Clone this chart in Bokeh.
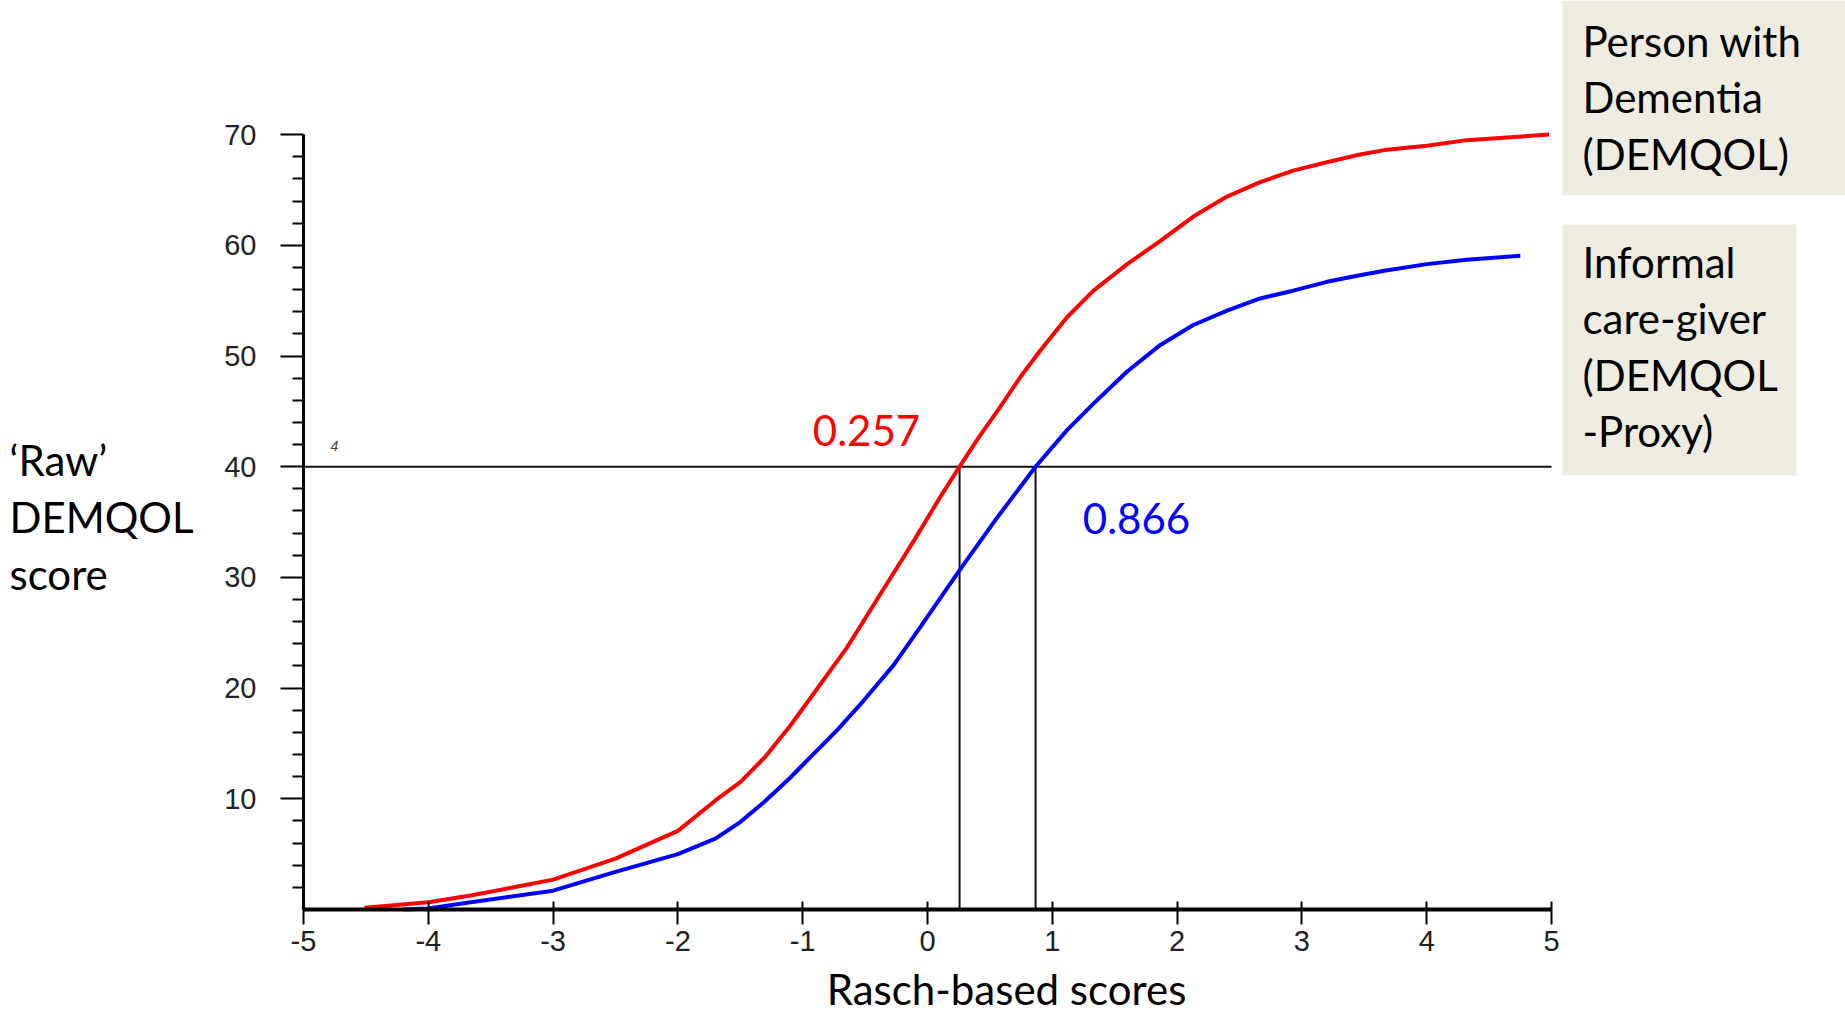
from bokeh.plotting import figure
from bokeh.models import Range1d, FixedTicker, Label, BoxAnnotation
from bokeh.embed import file_html
from bokeh.resources import INLINE

# ---------------- data ----------------
rasch_ticks = [-5, -4, -3, -2, -1, 0, 1, 2, 3, 4, 5]
rasch_tick_labels = ["-5", "-4", "-3", "-2", "-1", "0", "1", "2", "3", "4", "5"]
raw_ticks = [10, 20, 30, 40, 50, 60, 70]
raw_minor_ticks = [2, 4, 6, 8, 12, 14, 16, 18, 22, 24, 26, 28, 32, 34, 36, 38,
                   42, 44, 46, 48, 52, 54, 56, 58, 62, 64, 66, 68]

# Person with Dementia (DEMQOL) - red curve
pwd_x = [-4.51, -4.0, -3.66, -3.0, -2.5, -2.0, -1.7, -1.5, -1.3, -1.1, -0.964,
         -0.643, -0.377, -0.11, 0.104, 0.257, 0.42, 0.583, 0.744, 0.904, 1.118,
         1.33, 1.60, 1.866, 2.13, 2.40, 2.665, 2.93, 3.20, 3.465, 3.66, 4.0,
         4.32, 4.98]
pwd_y = [0.15, 0.66, 1.26, 2.7, 4.6, 7.1, 9.85, 11.5, 13.8, 16.6, 18.7,
         23.7, 28.5, 33.3, 37.3, 40.0, 42.8, 45.4, 48.1, 50.5, 53.5,
         55.9, 58.3, 60.4, 62.6, 64.4, 65.7, 66.75, 67.5, 68.2, 68.6, 69.0,
         69.5, 70.0]

# Informal care-giver (DEMQOL-Proxy) - blue curve
carer_x = [-4.2, -4.0, -3.66, -3.0, -2.5, -2.0, -1.7, -1.5, -1.3, -1.1, -1.018,
           -0.724, -0.54, -0.27, -0.058, 0.273, 0.558, 0.866, 1.118, 1.33, 1.60,
           1.866, 2.13, 2.40, 2.665, 2.93, 3.20, 3.465, 3.66, 4.0, 4.32, 4.75]
carer_y = [0.0, 0.1, 0.66, 1.7, 3.4, 5.0, 6.4, 7.9, 9.8, 11.9, 12.85,
           16.2, 18.5, 22.1, 25.5, 30.9, 35.4, 40.0, 43.3, 45.7, 48.6,
           51.0, 52.8, 54.1, 55.2, 55.9, 56.7, 57.3, 57.7, 58.3, 58.7, 59.05]

cut_raw = 40
cut_pwd = 0.257
cut_carer = 0.866
cut_labels = ["0.257", "0.866"]

legend_pwd = ["Person with", "Dementia", "(DEMQOL)"]
legend_carer = ["Informal", "care-giver", "(DEMQOL", "-Proxy)"]
y_title = ["\u2018Raw\u2019", "DEMQOL", "score"]
x_title = "Rasch-based scores"

# ---------------- layout ----------------
W, H = 1845, 1014
AX_LEFT_PX = 303      # canvas x of Rasch = -5
AX_BOTTOM_PX = 909    # canvas y of raw score = 0
PXX = 124.8           # pixels per Rasch unit
PXY = 11.07           # pixels per raw score unit
TXT_SHIFT = 17        # baseline correction for big labels (px)

def dx(px):
    return rasch_ticks[0] + (px - AX_LEFT_PX) / PXX

def dy(py):
    return (AX_BOTTOM_PX - py) / PXY

def ty(py):
    return dy(py - TXT_SHIFT)

p = figure(width=W, height=H, output_backend="svg", toolbar_location=None,
           x_range=Range1d(dx(0), dx(W)), y_range=Range1d(dy(H), dy(0)),
           min_border_left=0, min_border_right=0, min_border_top=0,
           min_border_bottom=0)
p.outline_line_color = None
p.grid.visible = False
p.background_fill_color = "white"
p.border_fill_color = "white"

TICK_FONT = "Liberation Sans"
BIG_FONT = "Lato"

xa = p.xaxis[0]
xa.fixed_location = 0
xa.ticker = FixedTicker(ticks=rasch_ticks, minor_ticks=[])
xa.major_label_overrides = dict(zip(rasch_ticks, rasch_tick_labels))
xa.bounds = (rasch_ticks[0], rasch_ticks[-1])
xa.axis_line_width = 4
xa.axis_line_color = "black"
xa.major_tick_in = 8
xa.major_tick_out = 15
xa.major_tick_line_width = 2
xa.minor_tick_in = 0
xa.minor_tick_out = 0
xa.major_label_standoff = 6
xa.major_label_text_font = TICK_FONT
xa.major_label_text_font_size = "29px"
xa.major_label_text_color = "#222222"

ya = p.yaxis[0]
ya.fixed_location = rasch_ticks[0]
ya.ticker = FixedTicker(ticks=raw_ticks, minor_ticks=raw_minor_ticks)
ya.bounds = (0, raw_ticks[-1])
ya.axis_line_width = 3
ya.axis_line_color = "black"
ya.major_tick_in = 0
ya.major_tick_out = 23
ya.minor_tick_in = 0
ya.minor_tick_out = 11
ya.major_tick_line_width = 2
ya.minor_tick_line_width = 2
ya.major_label_standoff = 24
ya.major_label_text_font = TICK_FONT
ya.major_label_text_font_size = "29px"
ya.major_label_text_color = "#222222"

# reference lines
p.segment(x0=[rasch_ticks[0]], y0=[cut_raw], x1=[rasch_ticks[-1]], y1=[cut_raw],
          line_color="#111111", line_width=2)
p.segment(x0=[cut_pwd, cut_carer], y0=[0, 0], x1=[cut_pwd, cut_carer],
          y1=[cut_raw, cut_raw], line_color="#111111", line_width=2)

# curves
p.line(pwd_x, pwd_y, line_color="#FF0000", line_width=4, line_join="round")
p.line(carer_x, carer_y, line_color="#0000FF", line_width=4, line_join="round")

# small artifact glyph near the y axis
p.add_layout(Label(x=dx(330), y=ty(462), text="4", text_font=TICK_FONT,
                   text_font_size="14px", text_font_style="italic",
                   text_color="#444444", text_align="left",
                   text_baseline="alphabetic"))

# cut-point annotations
p.add_layout(Label(x=dx(866), y=ty(447), text=cut_labels[0], text_font=BIG_FONT,
                   text_font_size="42px", text_color="#FF0000", text_align="center",
                   text_baseline="alphabetic"))
p.add_layout(Label(x=dx(1136), y=ty(535), text=cut_labels[1], text_font=BIG_FONT,
                   text_font_size="42px", text_color="#0000FF", text_align="center",
                   text_baseline="alphabetic"))

# legend boxes
BOX = "#EEECE1"
p.add_layout(BoxAnnotation(left=dx(1562), right=dx(W), top=dy(0), bottom=dy(195),
                           fill_color=BOX, fill_alpha=1, line_color=None))
p.add_layout(BoxAnnotation(left=dx(1562), right=dx(1796), top=dy(224), bottom=dy(475),
                           fill_color=BOX, fill_alpha=1, line_color=None))
for i, t in enumerate(legend_pwd):
    p.add_layout(Label(x=dx(1582), y=ty(57 + 56.5 * i), text=t, text_font=BIG_FONT,
                       text_font_size="42px", text_color="black", text_align="left",
                       text_baseline="alphabetic"))
for i, t in enumerate(legend_carer):
    p.add_layout(Label(x=dx(1582), y=ty(278 + 56.5 * i), text=t, text_font=BIG_FONT,
                       text_font_size="42px", text_color="black", text_align="left",
                       text_baseline="alphabetic"))

# axis titles
for i, t in enumerate(y_title):
    p.add_layout(Label(x=dx(9), y=ty(476 + 57 * i), text=t, text_font=BIG_FONT,
                       text_font_size="42px", text_color="black", text_align="left",
                       text_baseline="alphabetic"))
p.add_layout(Label(x=dx(1006), y=ty(1005), text=x_title, text_font=BIG_FONT,
                   text_font_size="42px", text_color="black", text_align="center",
                   text_baseline="alphabetic"))

open("out.html", "w").write(file_html(p, INLINE))
